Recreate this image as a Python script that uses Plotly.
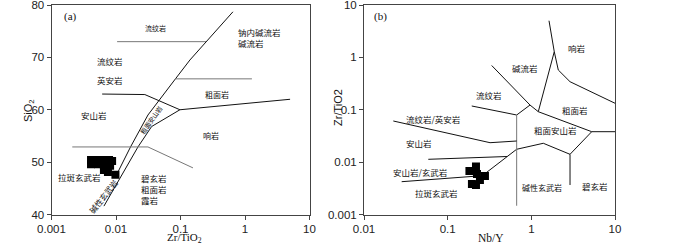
import plotly.graph_objects as go

# ---------------- data ----------------
# Panel (a): SiO2 vs Zr/TiO2 samples
a_zr_tio2 = [0.0041, 0.0051, 0.0063, 0.0078, 0.0087, 0.0041, 0.0053, 0.0065, 0.0081, 0.0065, 0.0075, 0.0098]
a_sio2 = [50.4, 50.4, 50.4, 50.4, 50.2, 49.6, 49.6, 49.45, 49.3, 48.5, 48.1, 47.6]

# Panel (b): Zr/TiO2 vs Nb/Y samples
b_nb_y = [0.218, 0.182, 0.224, 0.279, 0.243, 0.195, 0.218]
b_zr_tio2 = [0.00825, 0.00677, 0.00593, 0.00543, 0.00456, 0.00382, 0.00366]

# Panel (a) field boundaries (Zr/TiO2, SiO2)
a_rhy_x = [0.0104, 0.25];                    a_rhy_y = [73.0, 73.0]
a_diag_x = [0.65, 0.248, 0.140, 0.0835, 0.0313, 0.0168, 0.0107]
a_diag_y = [78.7, 72.9, 69.5, 65.9, 59.0, 52.9, 48.1]
a_com_x = [0.0835, 1.28];                    a_com_y = [65.9, 65.9]
a_and_x = [0.0061, 0.028, 0.098];            a_and_y = [63.0, 62.9, 60.0]
a_trph_x = [0.098, 5.0];                     a_trph_y = [60.0, 62.0]
a_tran_x = [0.098, 0.0357, 0.0219, 0.0065];  a_tran_y = [60.0, 56.8, 52.9, 41.6]
a_bas_x = [0.0021, 0.0313, 0.156];           a_bas_y = [52.9, 52.9, 48.9]

# Panel (b) field boundaries (Nb/Y, Zr/TiO2)
b_rhy_x = [0.194, 0.668, 0.964];             b_rhy_y = [0.118, 0.0794, 0.123]
b_com_x = [0.336, 0.964, 1.211];             b_com_y = [0.70, 0.123, 0.0918]
b_ph_x = [1.626, 1.880, 1.211];              b_ph_y = [5.01, 1.283, 0.0918]
b_phtr_x = [1.880, 2.10, 2.90, 10.0];        b_phtr_y = [1.283, 0.574, 0.343, 0.133]
b_tr_x = [1.211, 5.27, 10.0];                b_tr_y = [0.0918, 0.0381, 0.0381]
b_tran_x = [5.27, 2.90, 2.90];               b_tran_y = [0.0381, 0.0141, 0.00366]
b_tranlow_x = [2.90, 1.39, 0.668, 0.2305];   b_tranlow_y = [0.0141, 0.0229, 0.0176, 0.00476]
b_vert_x = [0.668, 0.668];                   b_vert_y = [0.0794, 0.00147]
b_andup_x = [0.0224, 0.321, 0.668];          b_andup_y = [0.0610, 0.0235, 0.0253]
b_andlow_x = [0.0587, 0.512];                b_andlow_y = [0.01132, 0.0128]
b_bas_x = [0.0282, 0.2305];                  b_bas_y = [0.00423, 0.00543]

# tick labels
a_xticks = [0.001, 0.01, 0.1, 1, 10];  a_xticktext = ["0.001", "0.01", "0.1", "1", "10"]
a_yticks = [40, 50, 60, 70, 80]
b_xticks = [0.01, 0.1, 1, 10];         b_xticktext = ["0.01", "0.1", "1", "10"]
b_yticks = [0.001, 0.01, 0.1, 1, 10];  b_yticktext = ["0.001", "0.01", "0.1", "1", "10"]

# ---------------- figure ----------------
fig = go.Figure()
BLK = "#111111"
GRY = "#777777"

def add_line(x, y, ax, color=BLK, width=1):
    fig.add_trace(go.Scatter(x=x, y=y, mode="lines", line=dict(color=color, width=width),
                             xaxis=ax[0], yaxis=ax[1], hoverinfo="skip", showlegend=False))

A = ("x", "y")
B = ("x2", "y2")
add_line(a_rhy_x, a_rhy_y, A, GRY)
add_line(a_diag_x, a_diag_y, A)
add_line(a_com_x, a_com_y, A, GRY)
add_line(a_and_x, a_and_y, A)
add_line(a_trph_x, a_trph_y, A)
add_line(a_tran_x, a_tran_y, A)
add_line(a_bas_x, a_bas_y, A, GRY)

add_line(b_rhy_x, b_rhy_y, B)
add_line(b_com_x, b_com_y, B)
add_line(b_ph_x, b_ph_y, B)
add_line(b_phtr_x, b_phtr_y, B)
add_line(b_tr_x, b_tr_y, B)
add_line(b_tran_x, b_tran_y, B)
add_line(b_tranlow_x, b_tranlow_y, B)
add_line(b_vert_x, b_vert_y, B, GRY)
add_line(b_andup_x, b_andup_y, B)
add_line(b_andlow_x, b_andlow_y, B)
add_line(b_bas_x, b_bas_y, B)

fig.add_trace(go.Scatter(x=a_zr_tio2, y=a_sio2, mode="markers",
                         marker=dict(symbol="square", size=8, color="black"),
                         xaxis="x", yaxis="y", showlegend=False))
fig.add_trace(go.Scatter(x=b_nb_y, y=b_zr_tio2, mode="markers",
                         marker=dict(symbol="square", size=8, color="black"),
                         xaxis="x2", yaxis="y2", showlegend=False))

tickfont = dict(family="Liberation Sans, Arial", size=11.5, color="#222")
axcommon = dict(showgrid=False, zeroline=False, showline=True, linecolor="#444", linewidth=1,
                mirror=True, ticks="outside", ticklen=4, tickcolor="#444", tickwidth=1,
                tickfont=tickfont, automargin=False, ticklabeloverflow="allow")

yd = [1 - 214.5 / 245, 1 - 5 / 245]
fig.update_layout(
    width=700, height=245, margin=dict(l=0, r=0, t=0, b=0, pad=0, autoexpand=False),
    paper_bgcolor="white", plot_bgcolor="white",
    xaxis=dict(type="log", range=[-3, 1], domain=[51.5 / 700, 309.5 / 700], anchor="y",
               tickvals=a_xticks, ticktext=a_xticktext, **axcommon),
    yaxis=dict(range=[40, 80], domain=yd, anchor="x", tickvals=a_yticks, **axcommon),
    xaxis2=dict(type="log", range=[-2, 1], domain=[364 / 700, 615 / 700], anchor="y2",
                tickvals=b_xticks, ticktext=b_xticktext, **axcommon),
    yaxis2=dict(type="log", range=[-3, 1], domain=yd, anchor="x2",
                tickvals=b_yticks, ticktext=b_yticktext, **axcommon),
)

CJK = "Noto Sans CJK SC"
SERIF = "Liberation Serif, Times New Roman"

def lab(text, x, y, ax, size=8.5, angle=0, xanchor="center", family=CJK, align="center"):
    fig.add_annotation(text=text, x=x, y=y, xref=ax[0], yref=ax[1], showarrow=False,
                       textangle=angle, xanchor=xanchor, yanchor="middle", align=align,
                       font=dict(family=family, size=size, color="#111"))

# panel (a) labels (x in log10 units)
lab("(a)", -2.713, 77.9, A, size=11, family=SERIF)
lab("流纹岩", -1.380, 75.7, A, size=7)
lab("钠内碱流岩", -0.140, 74.8, A, size=8.5, xanchor="left")
lab("碱流岩", -0.140, 72.7, A, size=8.5, xanchor="left")
lab("流纹岩", -2.093, 69.3, A, size=8.5)
lab("英安岩", -2.093, 65.7, A, size=8.5)
lab("安山岩", -2.336, 59.0, A, size=8.5)
lab("粗面岩", -0.430, 63.0, A, size=8)
lab("响岩", -0.532, 55.05, A, size=8)
lab("粗面安山岩", -1.457, 58.0, A, size=6.5, angle=-55)
lab("拉斑玄武岩", -2.569, 47.2, A, size=8.5)
lab("碱性玄武岩", -2.20, 43.5, A, size=8, angle=-52)
lab("碧玄岩<br>粗面岩<br>霞岩", -1.643, 44.95, A, size=8.5, xanchor="left", align="left")

# panel (b) labels
lab("(b)", -1.797, 0.79, B, size=11, family=SERIF)
lab("碱流岩", -0.076, -0.203, B, size=8.5)
lab("响岩", 0.542, 0.185, B, size=8.5)
lab("流纹岩", -0.5025, -0.709, B, size=8.5)
lab("粗面岩", 0.522, -1.005, B, size=8.5)
lab("流纹岩/英安岩", -1.172, -1.167, B, size=8.5)
lab("粗面安山岩", 0.283, -1.396, B, size=8.5)
lab("安山岩", -1.339, -1.641, B, size=8.5)
lab("安山岩/玄武岩", -1.319, -2.183, B, size=8.5)
lab("拉斑玄武岩", -1.131, -2.580, B, size=8.5)
lab("碱性玄武岩", 0.124, -2.488, B, size=8)
lab("碧玄岩", 0.761, -2.450, B, size=8.5)

# axis titles
def title(text, px, py, family, size, angle=0):
    fig.add_annotation(text=text, x=px / 700, y=1 - py / 245, xref="paper", yref="paper",
                       xanchor="center", yanchor="middle", showarrow=False, textangle=angle,
                       font=dict(family=family, size=size, color="#111"))

title("SiO<sub>2</sub>", 29, 110, "Liberation Sans", 11, -90)
title("Zr/TiO<sub>2</sub>", 184, 237.5, SERIF, 11)
title("Zr/TiO2", 338, 108, "Liberation Sans", 11, -90)
title("Nb/Y", 491, 237.5, SERIF, 11.5)

# remove the browser's default page margin so the 700x245 figure fills the window
fig.write_html("out.html", config={"displayModeBar": False},
               post_script="document.body.style.margin='0';document.body.style.overflow='hidden';")
